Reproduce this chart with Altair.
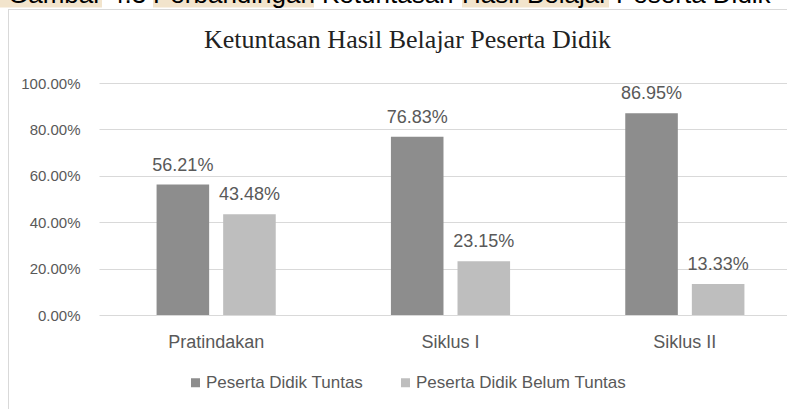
import altair as alt
import pandas as pd

# ---- data ----
categories = ["Pratindakan", "Siklus I", "Siklus II"]
series = ["Peserta Didik Tuntas", "Peserta Didik Belum Tuntas"]
tuntas = [56.21, 76.83, 86.95]
belum_tuntas = [43.48, 23.15, 13.33]
y_ticks = [0, 20, 40, 60, 80, 100]
chart_title = "Ketuntasan Hasil Belajar Peserta Didik"
caption_words = ["Gambar", "4.3", "Perbandingan", "Ketuntasan", "Hasil Belajar", "Peserta Didik"]

# ---- layout / style (not data) ----
W, H = 688, 232          # plot area
L, T = 99, 83            # plot origin in page
FONT = "Liberation Sans"
GRAY_TXT = "#595959"
GRID = "#D9D9D9"
COLORS = ["#8D8D8D", "#BEBEBE"]
caption_x = [8, 110, 153, 322, 462, 616]
highlight_spans = [(0, 102), (153, 314), (462, 609)]

rows = []
for i, c in enumerate(categories):
    rows.append({"cat": c, "ser": series[0], "val": tuntas[i]})
    rows.append({"cat": c, "ser": series[1], "val": belum_tuntas[i]})
df = pd.DataFrame(rows)
df["label"] = df["val"].map(lambda v: f"{v:.2f}%")

x_enc = alt.X(
    "cat:N", sort=categories,
    scale=alt.Scale(range=[0, 703], paddingInner=0.4915, paddingOuter=0.2457),
    axis=alt.Axis(title=None, labelAngle=0, domain=False, ticks=False, grid=False,
                  labelFont=FONT, labelFontSize=18, labelColor=GRAY_TXT,
                  labelPadding=32, labelBaseline="alphabetic"),
)
xo_enc = alt.XOffset("ser:N", sort=series,
                     scale=alt.Scale(paddingInner=0.2105, paddingOuter=0))
y_enc = alt.Y(
    "val:Q", scale=alt.Scale(domain=[0, 100], nice=False),
    axis=alt.Axis(title=None, values=y_ticks,
                  labelExpr="format(datum.value, '.2f') + '%'",
                  domain=False, ticks=False, grid=True, gridColor=GRID, gridWidth=1,
                  labelFont=FONT, labelFontSize=15, labelColor=GRAY_TXT, labelPadding=19),
)
color_enc = alt.Color(
    "ser:N", sort=series,
    scale=alt.Scale(domain=series, range=COLORS),
    legend=alt.Legend(title=None, orient="none", legendX=88, legendY=291,
                      direction="horizontal", symbolType="square", symbolSize=81,
                      symbolStrokeWidth=0, labelFont=FONT, labelFontSize=17,
                      labelColor=GRAY_TXT, labelOffset=2, columnPadding=33,
                      labelLimit=0),
)

bars = alt.Chart(df).mark_bar().encode(x=x_enc, xOffset=xo_enc, y=y_enc, color=color_enc)
labels = alt.Chart(df).mark_text(baseline="alphabetic", dy=-14, font=FONT, fontSize=18,
                                 color=GRAY_TXT).encode(
    x=alt.X("cat:N", sort=categories), xOffset=alt.XOffset("ser:N", sort=series),
    y="val:Q", text="label:N")

one = pd.DataFrame({"a": [0]})
title_mark = alt.Chart(pd.DataFrame({"t": [chart_title]})).mark_text(
    font="Liberation Serif", fontSize=26, color="#222222", align="center",
    baseline="alphabetic").encode(x=alt.value(407.5 - L), y=alt.value(48 - T), text="t:N")

frame_left = alt.Chart(one).mark_rule(color=GRID, strokeWidth=1).encode(
    x=alt.value(8.5 - L), y=alt.value(9.5 - T), y2=alt.value(409 - T))
frame_top = alt.Chart(one).mark_rule(color=GRID, strokeWidth=1).encode(
    x=alt.value(8 - L), x2=alt.value(787 - L), y=alt.value(9.5 - T))

hl = pd.DataFrame({"x0": [s[0] - L for s in highlight_spans], "x1": [s[1] - L for s in highlight_spans]})
highlights = alt.Chart(hl).mark_rect(color="#F2E4CC").encode(
    x=alt.X("x0:Q", scale=None), x2="x1:Q", y=alt.value(-40 - T), y2=alt.value(7.5 - T))
cap = pd.DataFrame({"w": caption_words, "px": [p - L for p in caption_x]})
caption = alt.Chart(cap).mark_text(font=FONT, fontSize=26, color="#000000", align="left",
                                   baseline="alphabetic").encode(
    x=alt.X("px:Q", scale=None), y=alt.value(3 - T), text="w:N")

chart = alt.layer(frame_left, frame_top, highlights, caption, title_mark, bars, labels).properties(
    width=W, height=H,
    autosize=alt.AutoSizeParams(type="none"),
    padding={"left": L, "top": T, "right": 0, "bottom": 409 - T - H},
    background="white",
).configure_view(strokeOpacity=0)

chart.save("out.html", embed_options={"renderer": "svg", "actions": False})
